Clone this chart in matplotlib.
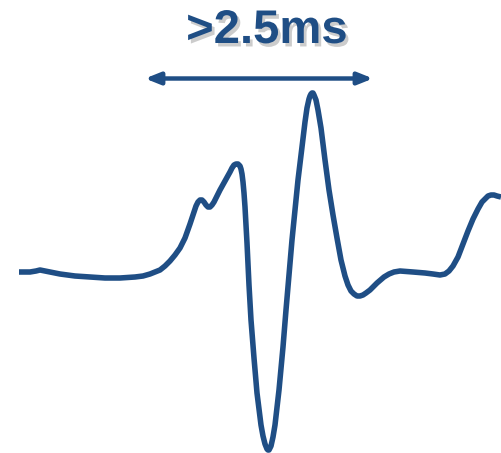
import matplotlib
matplotlib.use("Agg")
import matplotlib.pyplot as plt
import matplotlib.patheffects as pe

# Waveform samples (time index, amplitude relative to baseline)
t = [19, 30, 36, 40, 45, 50, 60, 75, 90, 105, 120, 135, 143, 150, 155, 160, 165, 170,
     175, 180, 185, 190, 194, 196, 198, 200, 202, 204, 206, 208, 210, 212, 214, 216,
     220, 225, 230, 232, 234, 236, 238, 240, 241, 242, 243, 244, 245, 247, 249, 251,
     254, 257, 261, 263, 265, 267, 268, 269, 271, 273, 275, 279, 283, 286, 289, 292,
     295, 298, 302, 305, 307, 309, 310, 311, 312, 313, 314, 316, 318, 321, 325, 329,
     333, 337, 341, 345, 348, 351, 354, 357, 360, 363, 366, 370, 377, 384, 389, 394,
     400, 413, 425, 433, 440, 445, 449, 453, 458, 463, 468, 473, 478, 482, 485, 488,
     491, 494, 497, 501]
y_px = [272, 272, 271, 270, 271, 272, 274, 276, 277, 278, 278, 277, 276, 274, 272, 270, 266, 261,
        255, 248, 238, 224, 212, 206, 202, 200, 200, 202, 205, 207, 207, 205, 202, 198,
        190, 181, 172, 168, 165, 164, 164, 166, 169, 174, 182, 193, 207, 243, 285, 320,
        358, 393, 425, 436, 444, 449, 450, 450, 446, 437, 425, 390, 347, 310, 275, 240,
        210, 180, 147, 122, 108, 99, 96, 94, 93, 93, 95, 100, 110, 128, 160, 190,
        215, 238, 260, 276, 285, 291, 294, 296, 296, 295, 293, 290, 283, 277, 274, 272,
        271, 272, 273, 274, 275, 274, 271, 266, 257, 244, 231, 219, 209, 202, 199, 196,
        195, 195, 196, 197]
amplitude = [272 - v for v in y_px]

# Duration marker
span_start, span_end = 145, 373
span_level = 272 - 78.5
span_label = ">2.5ms"

color = "#1f4e85"

fig = plt.figure(figsize=(5.01, 4.53), dpi=100)
ax = fig.add_axes([0, 0, 1, 1])
ax.set_xlim(0, 501)
ax.set_ylim(272 - 453, 272)
ax.axis("off")

ax.plot(t, amplitude, color=color, lw=4.0, solid_joinstyle="round",
        solid_capstyle="butt", clip_on=False)

ax.annotate("", xy=(span_end, span_level), xytext=(span_start, span_level),
            arrowprops=dict(arrowstyle="<|-|>,head_length=0.55,head_width=0.22",
                            mutation_scale=16, lw=3.2, color=color,
                            shrinkA=0, shrinkB=0))

ax.text((span_start + span_end) / 2 + 8, 272 - 31, span_label, ha="center", va="center",
        fontsize=34, fontweight="bold", family="Liberation Sans", color=color,
        path_effects=[pe.withSimplePatchShadow(offset=(2, -2.5), shadow_rgbFace="k",
                                               alpha=0.2)])

fig.savefig("out.png", dpi=100)
